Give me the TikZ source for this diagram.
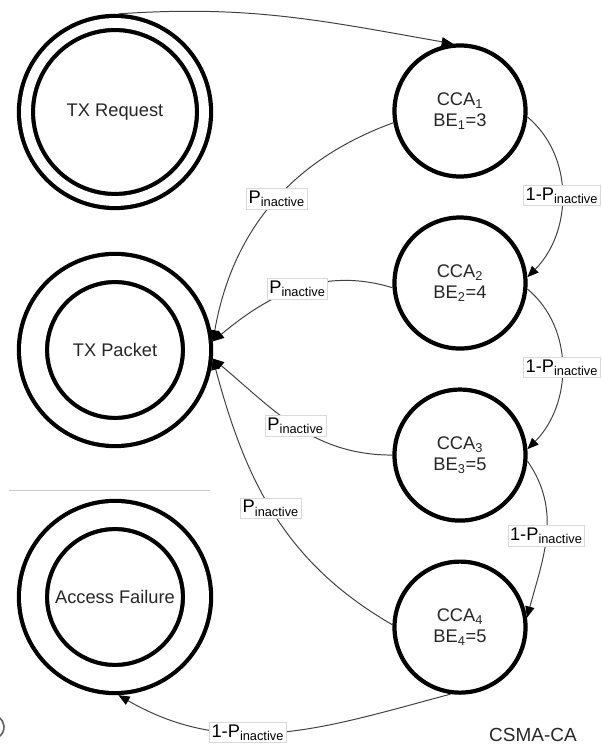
\documentclass[tikz,border=0pt]{standalone}
\usepackage{fontspec}
\setmainfont{Liberation Sans}
\usetikzlibrary{automata, positioning, arrows.meta}
\tikzset{
->, % directed edges
>={Triangle[length=8pt,width=6.5pt,color=black]}, % small filled heads
x=0.025cm, y=0.025cm, % one unit is one pixel of the sketch
node distance=4.3cm, % spacing of the CCA column
every state/.style={line width=3pt, minimum size=3.275cm, inner sep=0pt, align=center, text=black!85, font=\fontsize{13}{15}\selectfont},
ring/.style={double, double distance=#1, outer sep=0.5*#1+3pt}, % double border
trans/.style={line width=0.7pt, draw=black!75},
lbl/.style={draw=black!15, line width=0.5pt, fill=white, inner sep=1.5pt, font=\fontsize{13}{15}\selectfont},
}
\begin{document}
\begin{tikzpicture}
\useasboundingbox (0,0) rectangle (602,747);
\node[state, ring=7pt, minimum size=4.45cm] (req) at (115,635) {TX Request};
\node[state, ring=17pt, minimum size=4.1cm] (pkt) at (115,397) {TX Packet};
\node[state, ring=17pt, minimum size=4.1cm] (fail) at (115,150) {Access Failure};
\node[state] (cca1) at (460,636) {CCA\textsubscript{1}\\BE\textsubscript{1}=3};
\node[state, below of=cca1] (cca2) {CCA\textsubscript{2}\\BE\textsubscript{2}=4};
\node[state, below of=cca2] (cca3) {CCA\textsubscript{3}\\BE\textsubscript{3}=5};
\node[state, below of=cca3] (cca4) {CCA\textsubscript{4}\\BE\textsubscript{4}=5};
\node[font=\fontsize{13.5}{15}\selectfont, text=black!85] (title) at (533,12) {CSMA-CA};
\draw[-, black!20, line width=0.6pt] (9,257) -- (210,257);
\draw[-, black!60, line width=1.2pt] (-8,20) ++(-55:12) arc (-55:55:12);

\draw[trans] (req.88) to[out=4, in=170] (cca1.96);
\draw[trans] (cca1.190) to[out=200, in=80] node[lbl, pos=0.47] {P\textsubscript{inactive}} (pkt.5);
\draw[trans] (cca2.184) to[out=163, in=40] node[lbl, pos=0.5] {P\textsubscript{inactive}} (pkt.5);
\draw[trans] (cca3.180) to[out=180, in=-40] node[lbl, pos=0.5] {P\textsubscript{inactive}} (pkt.-5);
\draw[trans] (cca4.178) to[out=150, in=-75] node[lbl, pos=0.52] {P\textsubscript{inactive}} (pkt.-5);
\draw[trans] (cca1.-5) to[out=-40, in=45] node[lbl, pos=0.5] {1-P\textsubscript{inactive}} (cca2.5);
\draw[trans] (cca2.-5) to[out=-40, in=45] node[lbl, pos=0.5] {1-P\textsubscript{inactive}} (cca3.5);
\draw[trans] (cca3.-5) to[out=-55, in=75] node[lbl, pos=0.5] {1-P\textsubscript{inactive}} (cca4.8);
\draw[trans] (cca4.262) to[out=195, in=-30] node[lbl, pos=0.6] {1-P\textsubscript{inactive}} (fail.-88);
\end{tikzpicture}
\end{document}
